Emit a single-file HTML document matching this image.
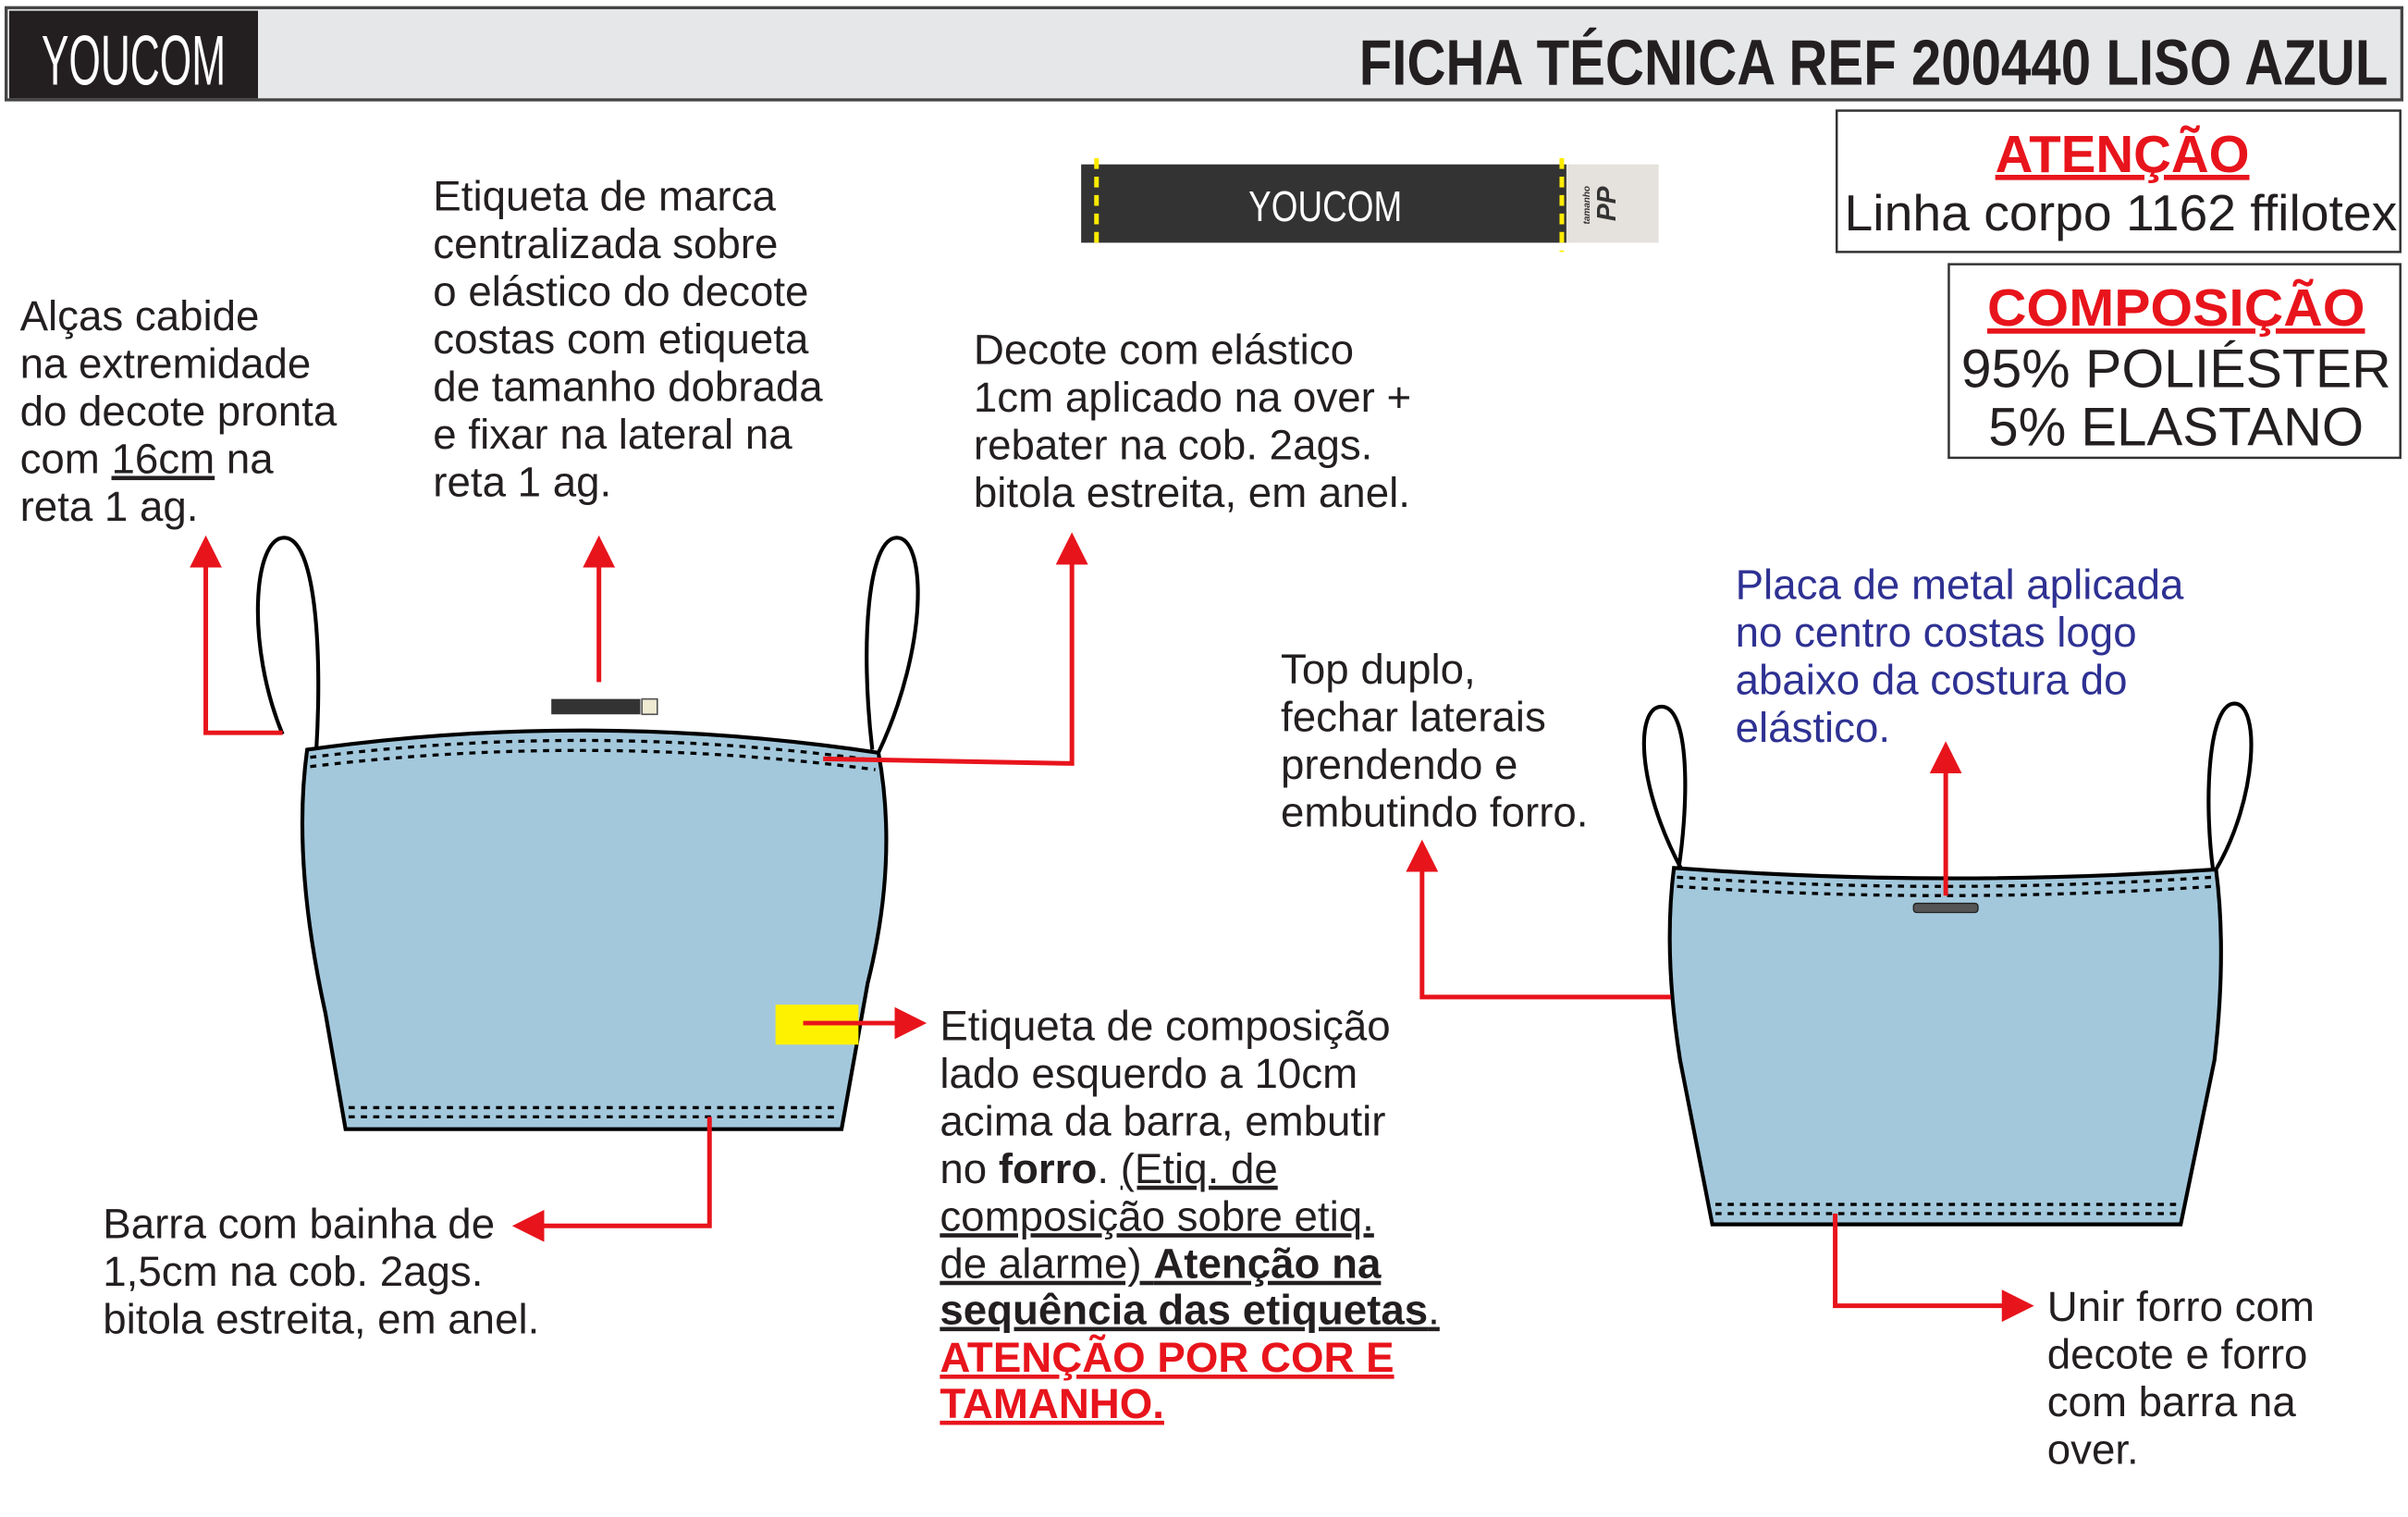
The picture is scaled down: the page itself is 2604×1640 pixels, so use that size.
<!DOCTYPE html>
<html><head><meta charset="utf-8"><style>
html,body{margin:0;padding:0;background:#fff;}
svg{display:block;}
text{font-family:"Liberation Sans",Arial,sans-serif;}
</style></head><body>
<svg width="2604" height="1640" viewBox="0 0 1568 987.5" preserveAspectRatio="none" xmlns="http://www.w3.org/2000/svg">
<defs>
<marker id="ah" markerWidth="7" markerHeight="7" refX="0.5" refY="3.5" orient="auto" markerUnits="strokeWidth"><path d="M0,0 L7,3.5 L0,7 z" fill="#e8141c"/></marker>
</defs>
<!-- header -->
<rect x="4" y="5" width="1560" height="60" fill="#e6e7e8" stroke="#444" stroke-width="2"/>
<rect x="6" y="7" width="162" height="57" fill="#231f20"/>
<text x="87" y="55" fill="#fff" font-size="46" text-anchor="middle" textLength="120" lengthAdjust="spacingAndGlyphs" style="font-family:'Liberation Sans Narrow','Liberation Sans',sans-serif">YOUCOM</text>
<text x="1555" y="55" fill="#231f20" font-size="42" font-weight="bold" text-anchor="end" textLength="670" lengthAdjust="spacingAndGlyphs" style="font-family:'Liberation Sans Narrow','Liberation Sans',sans-serif">FICHA TÉCNICA REF 200440 LISO AZUL</text>

<!-- label top -->
<rect x="704" y="107" width="316" height="51" fill="#333"/>
<rect x="1020" y="107" width="60" height="51" fill="#e5e1dc"/>
<line x1="714" y1="103" x2="714" y2="162" stroke="#ffeb00" stroke-width="3" stroke-dasharray="7,5"/>
<line x1="1017" y1="103" x2="1017" y2="164" stroke="#ffeb00" stroke-width="3" stroke-dasharray="7,5"/>
<text x="863" y="144" fill="#fff" font-size="28" text-anchor="middle" textLength="100" lengthAdjust="spacingAndGlyphs">YOUCOM</text>
<text transform="translate(1052,144) rotate(-90)" font-size="17" font-weight="bold" font-style="italic" fill="#333">PP</text>
<text transform="translate(1035,146) rotate(-90)" font-size="6" font-weight="bold" font-style="italic" fill="#333">tamanho</text>

<!-- boxes -->
<rect x="1196" y="72" width="367" height="92" fill="#fff" stroke="#333" stroke-width="1.5"/>
<text x="1382" y="112" font-size="34" font-weight="bold" fill="#e8141c" text-anchor="middle" text-decoration="underline">ATENÇÃO</text>
<text x="1381" y="150" font-size="33" fill="#231f20" text-anchor="middle" textLength="360" lengthAdjust="spacingAndGlyphs">Linha corpo 1162 ffilotex</text>
<rect x="1269" y="172" width="294" height="126" fill="#fff" stroke="#333" stroke-width="1.5"/>
<text x="1417" y="212" font-size="34" font-weight="bold" fill="#e8141c" text-anchor="middle" text-decoration="underline" textLength="246" lengthAdjust="spacingAndGlyphs">COMPOSIÇÃO</text>
<text x="1417" y="252" font-size="35" fill="#231f20" text-anchor="middle" textLength="280" lengthAdjust="spacingAndGlyphs">95% POLIÉSTER</text>
<text x="1417" y="290" font-size="35" fill="#231f20" text-anchor="middle">5% ELASTANO</text>

<!-- left garment -->
<path d="M184,478 C160,420 165,350 185,350 C205,350 210,420 206,488" fill="none" stroke="#000" stroke-width="2.5"/>
<path d="M568,488 C560,420 565,350 584,350 C603,350 605,420 572,490" fill="none" stroke="#000" stroke-width="2.5"/>
<path d="M200,488 Q385,462 572,490 Q585,560 565,640 L548,735 L225,735 L212,660 Q190,560 200,488 Z" fill="#a3c8dc" stroke="#000" stroke-width="2.5"/>
<path d="M202,493 Q385,470 570,495" fill="none" stroke="#000" stroke-width="2" stroke-dasharray="4,4"/>
<path d="M202,499 Q385,477 570,501" fill="none" stroke="#000" stroke-width="2" stroke-dasharray="4,4"/>
<line x1="227" y1="721" x2="547" y2="721" stroke="#000" stroke-width="2" stroke-dasharray="4,4"/>
<line x1="227" y1="727" x2="547" y2="727" stroke="#000" stroke-width="2" stroke-dasharray="4,4"/>
<rect x="359" y="455" width="58" height="10" fill="#333"/>
<rect x="418" y="455" width="10" height="10" fill="#efead2" stroke="#555" stroke-width="1"/>
<rect x="505" y="654" width="54" height="26" fill="#fff200"/>

<!-- left arrows -->
<g stroke="#e8141c" stroke-width="3" fill="none">
<polyline points="184,477 134,477 134,368" marker-end="url(#ah)"/>
<line x1="390" y1="444" x2="390" y2="368" marker-end="url(#ah)"/>
<polyline points="536,494 698,497 698,366" marker-end="url(#ah)"/>
<line x1="523" y1="666" x2="584" y2="666" marker-end="url(#ah)"/>
<polyline points="462,727 462,798 353,798" marker-end="url(#ah)"/>
</g>

<!-- right garment -->
<path d="M1095,566 C1065,510 1065,460 1082,460 C1100,460 1100,520 1093,566" fill="none" stroke="#000" stroke-width="2.5"/>
<path d="M1441,566 C1435,520 1438,458 1455,458 C1472,458 1470,520 1443,566" fill="none" stroke="#000" stroke-width="2.5"/>
<path d="M1090,565 Q1265,578 1443,566 Q1450,620 1442,690 L1420,797 L1115,797 L1094,690 Q1083,620 1090,565 Z" fill="#a3c8dc" stroke="#000" stroke-width="2.5"/>
<path d="M1092,571 Q1265,583 1441,571" fill="none" stroke="#000" stroke-width="2" stroke-dasharray="4,4"/>
<path d="M1092,577 Q1265,589 1441,577" fill="none" stroke="#000" stroke-width="2" stroke-dasharray="4,4"/>
<line x1="1117" y1="784" x2="1418" y2="784" stroke="#000" stroke-width="2" stroke-dasharray="4,4"/>
<line x1="1117" y1="790" x2="1418" y2="790" stroke="#000" stroke-width="2" stroke-dasharray="4,4"/>
<rect x="1246" y="588" width="42" height="6" rx="2" fill="#555" stroke="#222" stroke-width="0.8"/>
<g stroke="#e8141c" stroke-width="3" fill="none">
<polyline points="1088,649 926,649 926,566" marker-end="url(#ah)"/>
<line x1="1267" y1="583" x2="1267" y2="502" marker-end="url(#ah)"/>
<polyline points="1195,790 1195,850 1305,850" marker-end="url(#ah)"/>
</g>

<!-- texts -->
<g font-size="27.5" fill="#231f20">
<text x="13" y="215">Alças cabide</text>
<text x="13" y="246">na extremidade</text>
<text x="13" y="277">do decote pronta</text>
<text x="13" y="308">com <tspan text-decoration="underline">16cm</tspan> na</text>
<text x="13" y="339">reta 1 ag.</text>

<text x="282" y="137">Etiqueta de marca</text>
<text x="282" y="168">centralizada sobre</text>
<text x="282" y="199">o elástico do decote</text>
<text x="282" y="230">costas com etiqueta</text>
<text x="282" y="261">de tamanho dobrada</text>
<text x="282" y="292">e fixar na lateral na</text>
<text x="282" y="323">reta 1 ag.</text>

<text x="634" y="237">Decote com elástico</text>
<text x="634" y="268">1cm aplicado na over +</text>
<text x="634" y="299">rebater na cob. 2ags.</text>
<text x="634" y="330">bitola estreita, em anel.</text>

<text x="612" y="677">Etiqueta de composição</text>
<text x="612" y="708">lado esquerdo a 10cm</text>
<text x="612" y="739">acima da barra, embutir</text>
<text x="612" y="770">no <tspan font-weight="bold">forro</tspan>. <tspan text-decoration="underline">(Etiq. de</tspan></text>
<text x="612" y="801" text-decoration="underline">composição sobre etiq.</text>
<text x="612" y="832" text-decoration="underline">de alarme) <tspan font-weight="bold">Atenção na </tspan></text>
<text x="612" y="862" text-decoration="underline"><tspan font-weight="bold">sequência das etiquetas</tspan>.</text>
<text x="612" y="893" fill="#e8141c" font-weight="bold" text-decoration="underline">ATENÇÃO POR COR E</text>
<text x="612" y="923" fill="#e8141c" font-weight="bold" text-decoration="underline">TAMANHO.</text>

<text x="67" y="806">Barra com bainha de</text>
<text x="67" y="837">1,5cm na cob. 2ags.</text>
<text x="67" y="868">bitola estreita, em anel.</text>

<text x="834" y="445">Top duplo,</text>
<text x="834" y="476">fechar laterais</text>
<text x="834" y="507">prendendo e</text>
<text x="834" y="538">embutindo forro.</text>

<g fill="#2e3192">
<text x="1130" y="390">Placa de metal aplicada</text>
<text x="1130" y="421">no centro costas logo</text>
<text x="1130" y="452">abaixo da costura do</text>
<text x="1130" y="483">elástico.</text>
</g>

<text x="1333" y="860">Unir forro com</text>
<text x="1333" y="891">decote e forro</text>
<text x="1333" y="922">com barra na</text>
<text x="1333" y="953">over.</text>
</g>
</svg>
</body></html>
